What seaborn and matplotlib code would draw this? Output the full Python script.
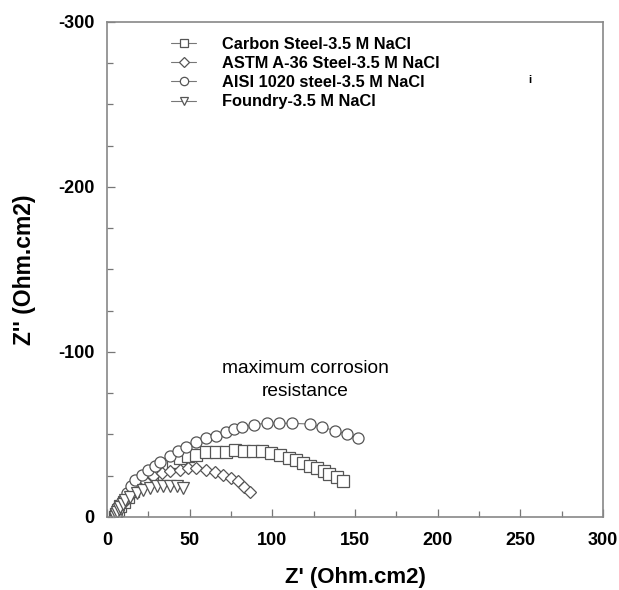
import numpy as np
import pandas as pd
import matplotlib
matplotlib.use("Agg")
import matplotlib.pyplot as plt
from matplotlib.ticker import MultipleLocator
import seaborn as sns

# Nyquist data: Z' (Ohm.cm2) and -Z'' (Ohm.cm2)
carbon_x = [5, 5.5, 6.5, 8, 10, 12.5, 15.5, 19, 23, 27, 31.5, 36, 40, 44, 49, 54, 60, 66, 72, 77.5, 83,
            88, 94, 99, 104.5, 110, 114.5, 118.5, 123, 127, 131, 134.5, 139, 142.5]
carbon_y = [0, 2, 4, 6.5, 9, 12, 15.5, 19, 22.5, 26, 29, 31.5, 33.5, 35.5, 37, 37.5, 39.5, 39, 39.5, 40.5, 40,
            39.8, 39.6, 38.6, 37.6, 35.8, 34.5, 32.5, 31, 29.5, 27.5, 26, 24, 21.5]

astm_x = [5, 5.5, 6.5, 8, 10, 12.5, 15.5, 19, 23, 28, 33, 38, 44, 49, 54, 60, 65, 70, 75, 79.5, 83, 86.5]
astm_y = [0, 2, 4, 6.5, 9, 12, 15, 18, 21.5, 24.5, 26.5, 27.5, 28.5, 29.5, 29.3, 28.5, 27, 25.5, 23.5, 21.5, 18, 15]

aisi_x = [5, 5.5, 6.5, 8, 10, 12, 14.5, 17, 21, 25, 29, 32, 38, 43, 48, 54, 60, 66, 72, 77, 81.5, 89,
          97, 104, 112, 123, 130, 138, 145, 152]
aisi_y = [0, 2, 4.5, 7.5, 11, 14.5, 18.5, 22.4, 25.5, 28.5, 31, 33.5, 37, 40, 42.6, 45.6, 47.7, 49, 51.5, 53, 54.3, 55.7,
          57, 56.7, 56.7, 56.2, 54.3, 52.3, 50, 48]

foundry_x = [5, 5.5, 6, 7, 8, 9.5, 11, 14, 18, 22, 26, 30, 34, 38, 42, 46]
foundry_y = [0, 1.5, 3, 4.5, 6, 8, 10, 12.3, 14.3, 16.4, 17.4, 18.4, 18.4, 18.4, 18.4, 17.4]

names = ["Carbon Steel-3.5 M NaCl", "ASTM A-36 Steel-3.5 M NaCl",
         "AISI 1020 steel-3.5 M NaCl", "Foundry-3.5 M NaCl"]
markers = {names[0]: "s", names[1]: "D", names[2]: "o", names[3]: "v"}

frames = []
for name, xs, ys in zip(names, [carbon_x, astm_x, aisi_x, foundry_x],
                        [carbon_y, astm_y, aisi_y, foundry_y]):
    frames.append(pd.DataFrame({"zre": xs, "zim": [-v for v in ys], "sample": name}))
df = pd.concat(frames, ignore_index=True)

sns.set_style("white")
plt.rcParams["font.family"] = ["Liberation Sans", "DejaVu Sans"]
plt.rcParams["axes.unicode_minus"] = False
plt.rcParams["text.color"] = "black"
plt.rcParams["axes.labelcolor"] = "black"

fig = plt.figure(figsize=(6.19, 5.90), dpi=100)
ax = fig.add_axes([0.173, 0.124, 0.801, 0.839])

sns.lineplot(data=df, x="zre", y="zim", hue="sample", style="sample", hue_order=names,
             style_order=names, markers=markers, dashes=False, sort=False, estimator=None,
             palette=["#777777"] * 4, linewidth=0.8, markersize=8,
             markerfacecolor="white", markeredgecolor="#555555", markeredgewidth=0.9,
             legend=False, ax=ax)
for ln, name in zip(ax.lines, names):
    ln.set_marker(markers[name])
    ln.set_markersize(6.5 if markers[name] == "D" else 8)

ax.set_xlim(0, 300)
ax.set_ylim(0, -300)
ax.xaxis.set_major_locator(MultipleLocator(50))
ax.xaxis.set_minor_locator(MultipleLocator(25))
ax.yaxis.set_major_locator(MultipleLocator(100))
ax.yaxis.set_minor_locator(MultipleLocator(25))
ax.tick_params(which="both", direction="in", color="#777777", width=0.9, labelcolor="black",
               bottom=True, left=True, top=False, right=False)
ax.tick_params(which="major", length=6, labelsize=13)
ax.tick_params(which="minor", length=4)
ax.tick_params(axis="x", pad=11)
ax.tick_params(axis="y", pad=9)
for lab in ax.get_xticklabels() + ax.get_yticklabels():
    lab.set_fontweight("bold")
for sp in ax.spines.values():
    sp.set_color("#888888")
    sp.set_linewidth(1.2)

ax.set_xlabel("Z' (Ohm.cm2)", fontsize=16, fontweight="bold", labelpad=13)
ax.set_ylabel("Z'' (Ohm.cm2)", fontsize=16.5, fontweight="bold", labelpad=16)

ax.text(120, -83, "maximum corrosion\nresistance", ha="center", va="center",
        fontsize=13.8, linespacing=1.5)
ax.text(256, -265, "i", ha="center", va="center", fontsize=8, fontweight="bold")

leg = ax.legend(handles=ax.lines, labels=names, loc="upper left",
                bbox_to_anchor=(0.1, 1.0), frameon=False, markerscale=0.75,
                handlelength=1.5, handletextpad=1.6, labelspacing=0.26,
                prop={"weight": "bold", "size": 11.8})

fig.savefig("out.png", dpi=100)
